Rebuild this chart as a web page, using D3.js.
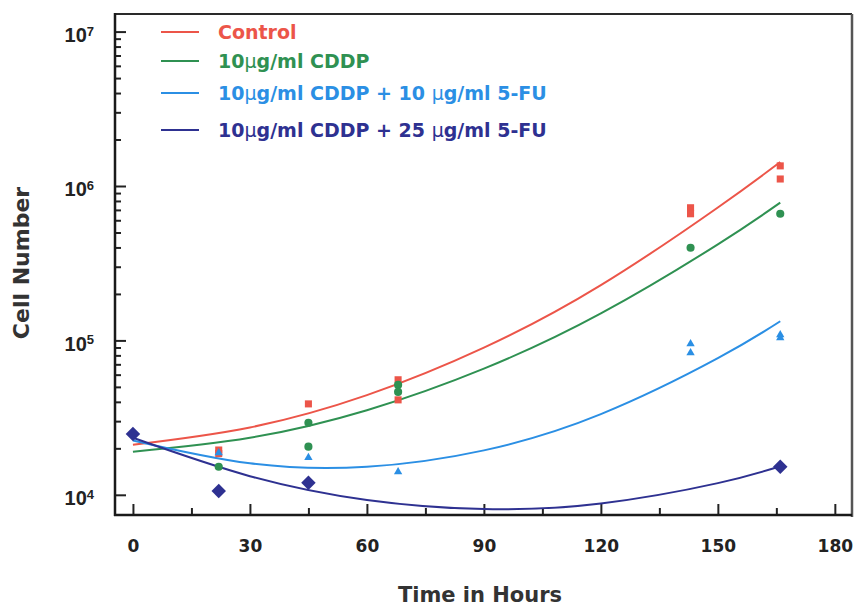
<!DOCTYPE html>
<html>
<head>
<meta charset="utf-8">
<script src="https://cdn.jsdelivr.net/npm/d3@7"></script>
<style>
  body { margin: 0; background: #fff; }
  svg text { font-family: "DejaVu Sans", sans-serif; font-weight: bold; }
</style>
</head>
<body>
<div id="chart"></div>
<script>

// series names (legend order) and their colours
var seriesNames = ["Control", "10μg/ml CDDP", "10μg/ml CDDP + 10 μg/ml 5-FU", "10μg/ml CDDP + 25 μg/ml 5-FU"];
var seriesColors = ["#ec5549", "#2f9152", "#2b8fe4", "#2e3191"];

// fitted curves at these hours
var fitTimes = [0, 30, 60, 90, 120, 150, 166];
var fitControl = [21100, 27300, 44200, 89700, 228000, 726000, 1430000];
var fitCddp    = [19000, 23400, 35300, 65600, 149500, 419000, 780000];
var fitCddp10  = [22500, 16000, 15200, 19400, 33300, 76700, 133000];
var fitCddp25  = [23400, 13200, 9250, 8080, 8790, 11900, 15300];

// measured points [hours, cells]
var obsControl = [[22, 19500], [22, 18500], [45, 38800], [68, 55600], [68, 41200],
                  [143, 723000], [143, 661000], [166, 1350000], [166, 1110000]];
var obsCddp    = [[22, 15200], [45, 29300], [45, 20500], [68, 51500], [68, 46400],
                  [143, 398000], [166, 661000]];
var obsCddp10  = [[22, 18700], [45, 17400], [68, 14100], [143, 94900], [143, 83000],
                  [166, 108600], [166, 103800]];
var obsCddp25  = [[0, 24800], [22, 10600], [45, 11960], [166, 15200]];

var xMajor = [0, 30, 60, 90, 120, 150, 180];
var xMinor = [15, 45, 75, 105, 135, 165];
var yMajor = [1e4, 1e5, 1e6, 1e7];


var margin = {top: 14, right: 3, bottom: 94, left: 115},
    width = 855 - margin.left - margin.right,
    height = 609 - margin.top - margin.bottom;

var svg = d3.select("#chart").append("svg")
    .attr("width", 855)
    .attr("height", 609);

var g = svg.append("g")
    .attr("transform", "translate(" + margin.left + "," + margin.top + ")");

var x = d3.scaleLinear().domain([-4.6, 184.4]).range([0, width]);
var y = d3.scaleLog().domain([7400, 1.3e7]).range([height, 0]);

// minor log ticks 2..9 for each decade
var yMinor = [];
[1e4, 1e5, 1e6].forEach(function(d) {
  for (var k = 2; k < 10; k++) yMinor.push(d * k);
});

// x axis: ticks point inside
var xAx = g.append("g")
    .attr("class", "x axis")
    .attr("transform", "translate(0," + height + ")")
    .call(d3.axisBottom(x).tickValues(xMajor).tickSize(-11).tickSizeOuter(0).tickPadding(25));
xAx.selectAll("text")
    .style("font-size", "17px")
    .attr("fill", "#222");

g.append("g")
    .attr("transform", "translate(0," + height + ")")
    .call(d3.axisBottom(x).tickValues(xMinor).tickSize(-7).tickFormat(""));

// y axis
var yAx = g.append("g")
    .attr("class", "y axis")
    .call(d3.axisLeft(y).tickValues(yMajor).tickSize(-11).tickPadding(21).tickFormat(""));

yAx.selectAll(".tick text")
    .attr("dy", "0.5em")
    .style("font-family", "'Liberation Sans', Arial, sans-serif")
    .style("font-size", "20px")
    .attr("fill", "#222")
    .each(function(d) {
      var t = d3.select(this);
      t.append("tspan").text("10");
      t.append("tspan")
        .attr("dy", "-0.5em")
        .style("font-size", "13px")
        .text(Math.round(Math.log10(d)));
    });

g.append("g")
    .call(d3.axisLeft(y).tickValues(yMinor).tickSize(-6).tickFormat(""));

g.selectAll(".domain").remove();
g.selectAll(".tick line")
    .attr("stroke", "#222")
    .attr("stroke-width", 2);

// frame
g.append("line").attr("x1", 0).attr("x2", width).attr("y1", 0).attr("y2", 0)
    .attr("stroke", "#2a2a2a").attr("stroke-width", 2);
g.append("line").attr("x1", width).attr("x2", width).attr("y1", 0).attr("y2", height + 2)
    .attr("stroke", "#555").attr("stroke-width", 2.5);
g.append("line").attr("x1", 0).attr("x2", 0).attr("y1", -1).attr("y2", height + 1)
    .attr("stroke", "#1a1a1a").attr("stroke-width", 2.5);
g.append("line").attr("x1", -1).attr("x2", width).attr("y1", height).attr("y2", height)
    .attr("stroke", "#1a1a1a").attr("stroke-width", 2.5);

// fitted curves
var line = d3.line()
    .x(function(d) { return x(d[0]); })
    .y(function(d) { return y(d[1]); })
    .curve(d3.curveNatural);

[fitControl, fitCddp, fitCddp10, fitCddp25].forEach(function(vals, i) {
  g.append("path")
    .datum(fitTimes.map(function(t, j) { return [t, vals[j]]; }))
    .attr("fill", "none")
    .attr("stroke", seriesColors[i])
    .attr("stroke-width", 2)
    .attr("d", line);
});

// markers
var shapes = [
  d3.symbol().type(d3.symbolSquare).size(50),
  d3.symbol().type(d3.symbolCircle).size(52),
  d3.symbol().type(d3.symbolTriangle).size(30),
  d3.symbol().type(d3.symbolSquare).size(105)
];
var rot = [0, 0, 0, 45];

[obsControl, obsCddp, obsCddp10, obsCddp25].forEach(function(pts, i) {
  g.selectAll(".pt" + i)
    .data(pts)
  .enter().append("path")
    .attr("class", "pt" + i)
    .attr("d", shapes[i])
    .attr("fill", seriesColors[i])
    .attr("transform", function(d) {
      return "translate(" + x(d[0]) + "," + y(d[1]) + ") rotate(" + rot[i] + ")";
    });
});

// legend
var legendY = [32, 61, 93, 130];
seriesNames.forEach(function(name, i) {
  svg.append("line")
    .attr("x1", 161).attr("x2", 199)
    .attr("y1", legendY[i]).attr("y2", legendY[i])
    .attr("stroke", seriesColors[i])
    .attr("stroke-width", 2);
  var t = svg.append("text")
    .attr("x", 218)
    .attr("y", legendY[i] + 7)
    .attr("fill", seriesColors[i])
    .style("font-size", "19px");
  name.split("μ").forEach(function(part, j) {
    if (j > 0) t.append("tspan").style("font-weight", "normal").text("μ");
    t.append("tspan").text(part);
  });
});

// axis titles
svg.append("text")
    .attr("x", 480)
    .attr("y", 602)
    .attr("text-anchor", "middle")
    .attr("fill", "#333")
    .style("font-size", "21px")
    .text("Time in Hours");

svg.append("text")
    .attr("transform", "translate(29,263) rotate(-90)")
    .attr("text-anchor", "middle")
    .attr("fill", "#333")
    .style("font-size", "22px")
    .text("Cell Number");

</script>
</body>
</html>
